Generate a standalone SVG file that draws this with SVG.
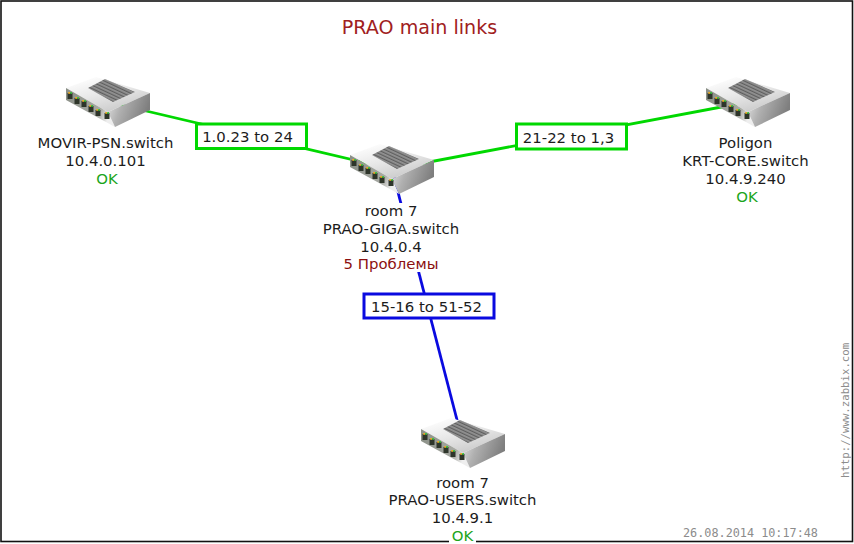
<svg xmlns="http://www.w3.org/2000/svg" xmlns:xlink="http://www.w3.org/1999/xlink" width="854" height="544" viewBox="0 0 854 544">
<style>
text{font-family:"DejaVu Sans",sans-serif;font-size:14.9px;fill:#1c1c1c;text-anchor:middle}
.ok{fill:#1ca51c}
.bad{fill:#8c1010}
.title{font-size:19.100px;fill:#a02020}
.mono{font-family:"DejaVu Sans Mono","Liberation Mono",monospace;fill:#8c8c8c}
.link{fill:none;stroke-width:2.8}
.g{stroke:#00d800}
.b{stroke:#0a0ae0}
.lab{fill:#fff;stroke-width:3}
</style>
<defs>
<filter id="soft" x="-5%" y="-5%" width="110%" height="110%"><feGaussianBlur stdDeviation="0.45"/></filter>
<linearGradient id="top" x1="0.2" y1="0" x2="0.8" y2="1"><stop offset="0" stop-color="#ffffff"/><stop offset="0.45" stop-color="#e8e8e8"/><stop offset="1" stop-color="#c4c4c4"/></linearGradient>
<linearGradient id="side" x1="0" y1="0" x2="1" y2="0.3"><stop offset="0" stop-color="#e6e6e6"/><stop offset="0.4" stop-color="#b0b0b0"/><stop offset="1" stop-color="#7e7e7e"/></linearGradient>
<linearGradient id="front" x1="0" y1="0" x2="1" y2="0.3"><stop offset="0" stop-color="#8a8f86"/><stop offset="0.8" stop-color="#a8aaa4"/><stop offset="1" stop-color="#eeeeee"/></linearGradient>
<pattern id="hatch" width="3" height="3" patternUnits="userSpaceOnUse" patternTransform="rotate(-65)"><rect width="3" height="3" fill="#929292"/><rect width="1.2" height="3" fill="#5e5e5e"/></pattern>
<g id="port"><rect x="-2.5" y="-2" width="5" height="6" fill="#2e342c"/><rect x="-1.8" y="-3" width="1.8" height="1.8" fill="#e8aa28"/><rect x="0.2" y="-3" width="1.8" height="1.8" fill="#40c040"/></g>
<g id="sw" filter="url(#soft)">
<polygon points="0,11 30,0 84,16 42,35" fill="url(#top)"/>
<polygon points="22,11 39,2 69,15 47,25" fill="url(#hatch)"/>
<polygon points="0,11 42,35 49,50 0,23" fill="url(#front)"/>
<polygon points="42,35 84,16 84,33 49,50" fill="url(#side)"/>
<use xlink:href="#port" href="#port" x="4" y="18"/>
<use xlink:href="#port" href="#port" x="11" y="23"/>
<use xlink:href="#port" href="#port" x="18" y="26"/>
<use xlink:href="#port" href="#port" x="25" y="31"/>
<use xlink:href="#port" href="#port" x="32" y="35"/>
<use xlink:href="#port" href="#port" x="41" y="38"/>
</g>
</defs>
<rect width="854" height="544" fill="#fff"/>
<rect x="1" y="1" width="851.500" height="540.500" fill="none" stroke="#111" stroke-width="1.6"/>
<text x="419.500" y="34" class="title">PRAO main links</text>
<text class="mono" transform="translate(849,478) rotate(-90)" style="text-anchor:start;font-size:10.7px">http://www.zabbix.com</text>
<text class="mono" x="750.500" y="537" style="font-size:11.800px">26.08.2014 10:17:48</text>
<g id="connectors">
<path class="link g" d="M108,102L392,169"/>
<path class="link g" d="M392,169L748,102"/>
<path class="link b" d="M392,169L463,443"/>
</g>
<g id="link-left"><rect class="lab g" x="196.500" y="124" width="110" height="24.500"/><text x="247.500" y="142">1.0.23 to 24</text></g>
<g id="link-right"><rect class="lab g" x="516.500" y="124" width="110" height="25"/><text x="568.500" y="143">21-22 to 1,3</text></g>
<g id="link-down"><rect class="lab b" x="364" y="294" width="130" height="24"/><text x="426.500" y="312">15-16 to 51-52</text></g>
<g id="node-movir">
<use xlink:href="#sw" href="#sw" x="66" y="77"/>
<text x="105.500" y="148">MOVIR-PSN.switch</text>
<text x="105.500" y="166">10.4.0.101</text>
<text x="107" y="184" class="ok">OK</text>
</g>
<g id="node-giga">
<use xlink:href="#sw" href="#sw" x="350" y="144"/>
<rect x="321" y="203" width="141" height="69" fill="#fff"/>
<text x="391" y="216">room 7</text>
<text x="391" y="234">PRAO-GIGA.switch</text>
<text x="391" y="252">10.4.0.4</text>
<text x="391" y="269" class="bad">5 Проблемы</text>
</g>
<g id="node-poligon">
<use xlink:href="#sw" href="#sw" x="706" y="77"/>
<text x="745.500" y="148">Poligon</text>
<text x="745.500" y="166">KRT-CORE.switch</text>
<text x="745.500" y="184">10.4.9.240</text>
<text x="747" y="202" class="ok">OK</text>
</g>
<g id="node-users">
<use xlink:href="#sw" href="#sw" x="421" y="418"/>
<rect x="449" y="528" width="27" height="16" fill="#fff"/>
<text x="462.500" y="488">room 7</text>
<text x="462.500" y="505">PRAO-USERS.switch</text>
<text x="462.500" y="523">10.4.9.1</text>
<text x="462.500" y="541" class="ok">OK</text>
</g>
</svg>
